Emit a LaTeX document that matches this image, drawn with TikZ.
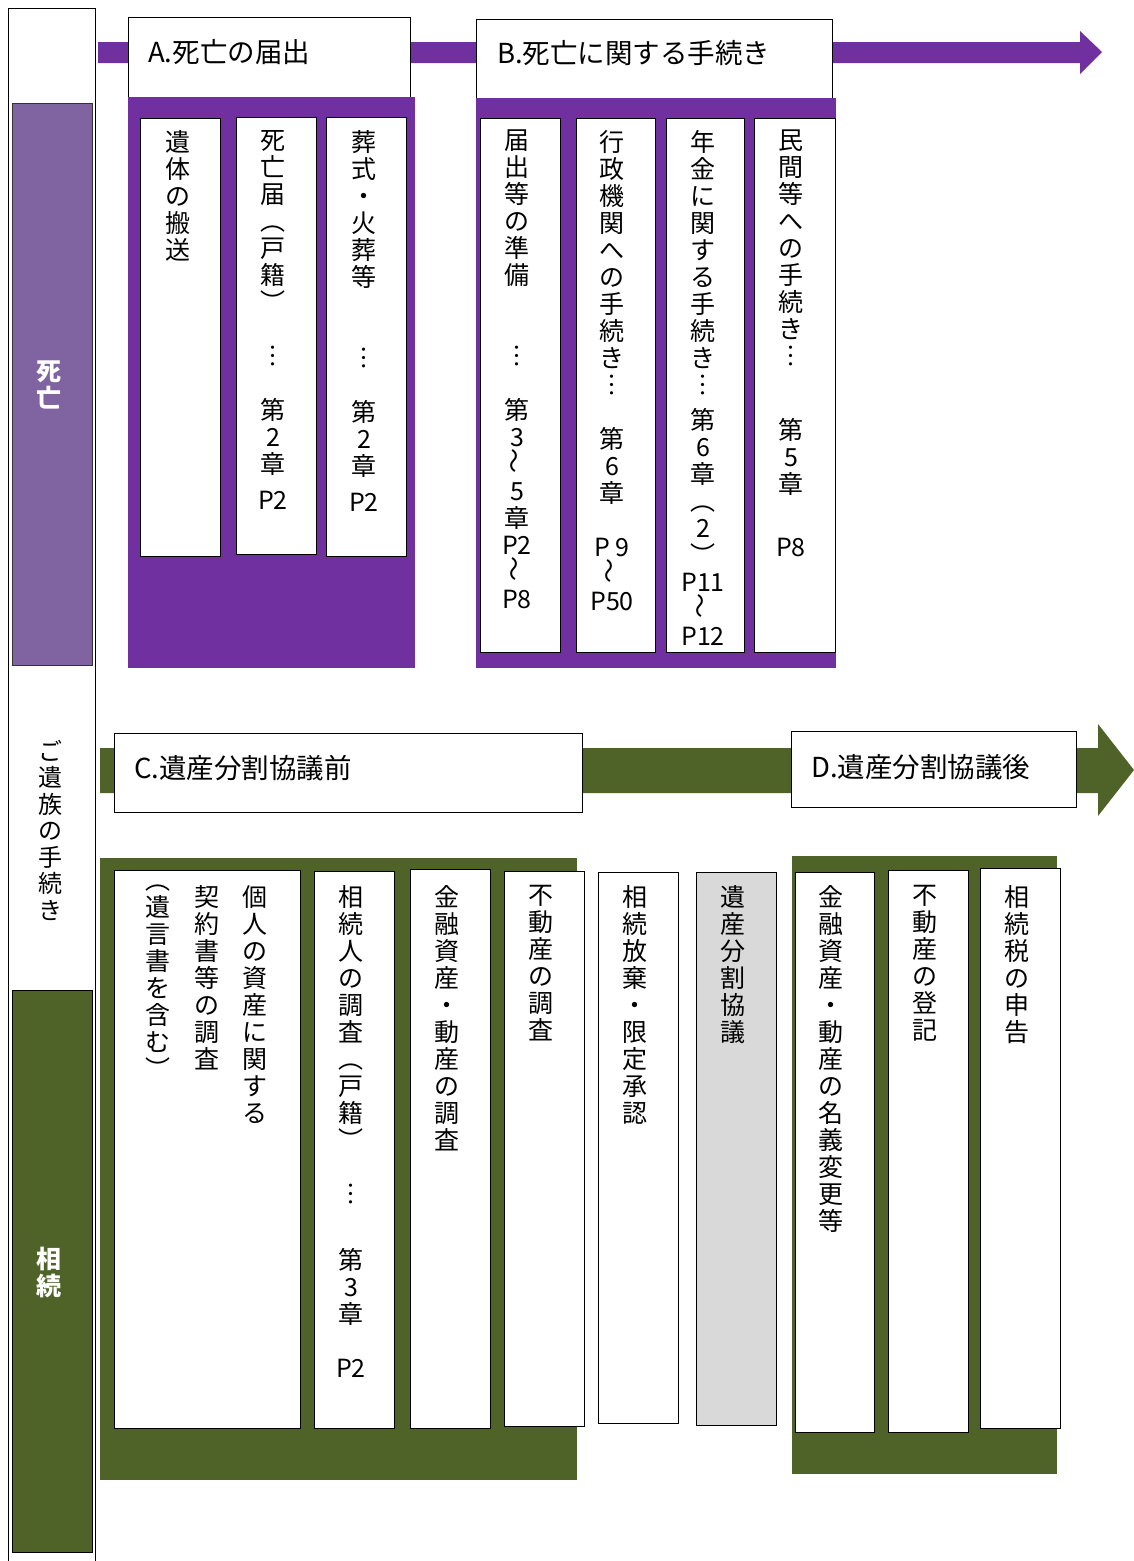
\documentclass[tikz,border=0pt]{standalone}
\usepackage{fontspec}
\setmainfont{Noto Sans CJK JP}
\usepackage{graphicx}
\definecolor{deathpurple}{HTML}{7030A0}
\definecolor{deathlight}{HTML}{8064A2}
\definecolor{heirgreen}{HTML}{4F6228}
\definecolor{talkgray}{HTML}{D9D9D9}
\tikzset{headbox/.style={draw=black,fill=white,line width=1pt}}
\tikzset{colbox/.style={draw=black,fill=white,line width=1pt}}
\tikzset{coltext/.style={anchor=north,inner sep=0pt,font=\fontsize{25}{27}\selectfont}}
\tikzset{headtext/.style={anchor=west,inner sep=0pt,font=\fontsize{27.5}{30}\selectfont}}
\tikzset{sidetext/.style={inner sep=0pt,text=white,font=\bfseries\fontsize{25}{27}\selectfont}}
\newcommand\wave{\rotatebox{90}{～}}
\ExplSyntaxOn
\NewDocumentCommand\vt{m}
  {
    \vbox
      {
        \tl_map_inline:nn {#1}
          {
            \tl_if_head_eq_meaning:nNTF {##1} \kern
              { ##1 }
              { \hbox_to_wd:nn { 1em } { \hss ##1 \hss } }
          }
      }
  }
\ExplSyntaxOff

\begin{document}
\begin{tikzpicture}[x=1pt,y=-1pt]
      \useasboundingbox (0,0) rectangle (1134,1561);
      % left column
      \draw[line width=1pt] (8,8) rectangle (95,1570);
      \draw[fill=deathlight,draw=black!80,line width=1pt] (12,103) rectangle (92,665);
      \draw[fill=heirgreen,draw=black,line width=1pt] (12,990) rectangle (92,1552);
      \node[sidetext] (deathside) at (49,385) {\vt{死亡}};
      \node[sidetext] (heirside) at (49,1272) {\vt{相続}};
      \node[coltext,font=\fontsize{24}{26.5}\selectfont] (family) at (50,740) {\vt{ご遺族の手続き}};
      % timeline arrows
      \fill[deathpurple] (98,42) -- (1080,42) -- (1080,31) -- (1102,52) -- (1080,74) -- (1080,63) -- (98,63) -- cycle;
      \fill[heirgreen] (100,748) -- (1098,748) -- (1098,724) -- (1134,770) -- (1098,816) -- (1098,793) -- (100,793) -- cycle;
      % A
      \draw[headbox] (128,17) rectangle (410,97);
      \node[headtext] (headA) at (148,52) {A.死亡の届出};
      \fill[deathpurple] (128,97) rectangle (415,668);
      \draw[colbox] (140,118) rectangle (220,556);
      \draw[colbox] (236,117) rectangle (316,554);
      \draw[colbox] (326,117) rectangle (406,556);
      \node[coltext] (remains) at (178,130) {\vt{遺体の搬送}};
      \node[coltext] (deathreport) at (273,130) {\vt{死亡届︵戸籍︶{}︙{}第2章{\kern9pt}{P2}}};
      \node[coltext] (funeral) at (364,130) {\vt{葬式・火葬等{}{}︙{}第2章{\kern9pt}{P2}}};
      % B
      \draw[headbox] (476,19) rectangle (832,98);
      \node[headtext] (headB) at (497,53) {B.死亡に関する手続き};
      \fill[deathpurple] (476,98) rectangle (836,668);
      \draw[colbox] (480,118) rectangle (560,652);
      \draw[colbox] (576,118) rectangle (655,652);
      \draw[colbox] (666,118) rectangle (744,652);
      \draw[colbox] (754,118) rectangle (835,652);
      \node[coltext] (prep) at (517,130) {\vt{届出等の準備{}{}︙{}第3\wave5章{P2}\wave{P8}}};
      \node[coltext] (admin) at (612,130) {\vt{行政機関への手続き︙{}第6章{}{P 9}\wave{P50}}};
      \node[coltext] (pension) at (703,130) {\vt{年金に関する手続き︙{\kern8pt}第6章︵2︶{P11}\wave{P12}}};
      \node[coltext] (private) at (791,130) {\vt{民間等への手続き︙{}{\kern20pt}第5章{}{\kern9pt}{P8}}};
      % C
      \draw[headbox] (114,733) rectangle (582,812);
      \node[headtext] (headC) at (134,768) {C.遺産分割協議前};
      \fill[heirgreen] (100,858) rectangle (577,1480);
      \draw[colbox] (114,870) rectangle (300,1428);
      \draw[colbox] (314,871) rectangle (394,1428);
      \draw[colbox] (410,869) rectangle (490,1428);
      \draw[colbox] (504,871) rectangle (584,1426);
      \node[coltext] (assetsA) at (255,885) {\vt{個人の資産に関する}};
      \node[coltext] (assetsB) at (207,885) {\vt{契約書等の調査}};
      \node[coltext] (assetsC) at (158,885) {\vt{︵遺言書を含む︶}};
      \node[coltext] (heirs) at (351,885) {\vt{相続人の調査︵戸籍︶{}︙{}{\kern12pt}第3章{}{P2}}};
      \node[coltext] (financeC) at (447,885) {\vt{金融資産・動産の調査}};
      \node[coltext] (estateC) at (541,885) {\vt{不動産の調査}};
      % between C and D
      \draw[colbox] (598,872) rectangle (678,1423);
      \draw[colbox,fill=talkgray] (696,872) rectangle (776,1425);
      \node[coltext] (renounce) at (635,885) {\vt{相続放棄・限定承認}};
      \node[coltext] (division) at (733,885) {\vt{遺産分割協議}};
      % D
      \draw[headbox] (791,731) rectangle (1076,807);
      \node[headtext] (headD) at (811,767) {D.遺産分割協議後};
      \fill[heirgreen] (792,856) rectangle (1057,1474);
      \draw[colbox] (795,872) rectangle (874,1432);
      \draw[colbox] (888,870) rectangle (968,1432);
      \draw[colbox] (980,868) rectangle (1060,1428);
      \node[coltext] (financeD) at (831,885) {\vt{金融資産・動産の名義変更等}};
      \node[coltext] (estateD) at (925,885) {\vt{不動産の登記}};
      \node[coltext] (taxD) at (1017,885) {\vt{相続税の申告}};
\end{tikzpicture}
\end{document}
